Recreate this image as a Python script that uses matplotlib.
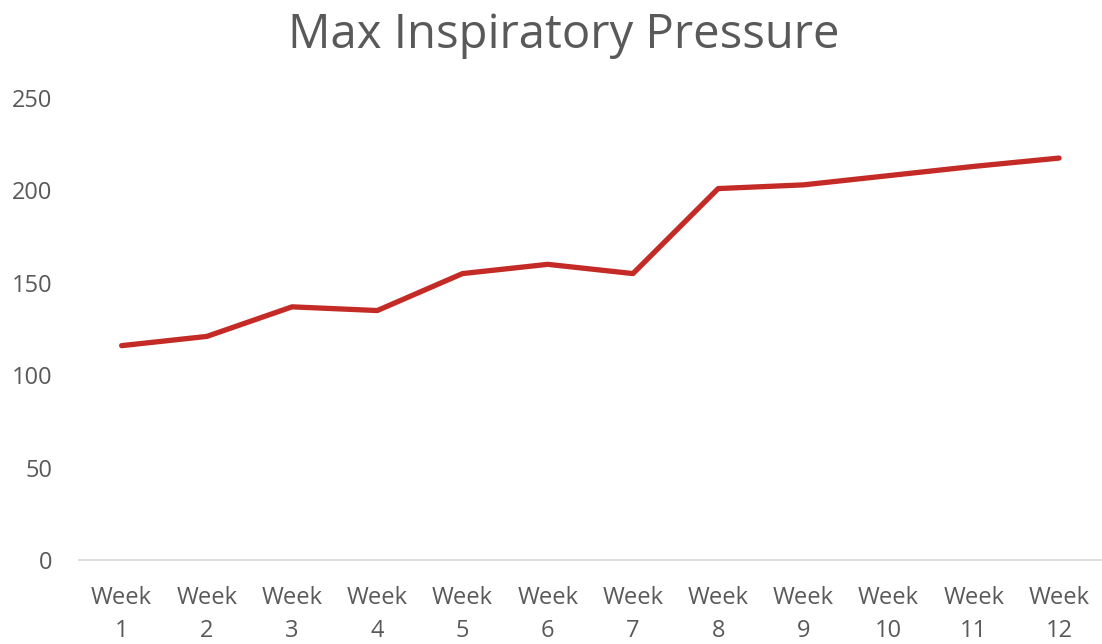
import numpy as np
from matplotlib import pyplot as plt

# weekly max inspiratory pressure readings
weeks = ["Week\n%d" % i for i in range(1, 13)]
pressure = [116, 121, 137, 135, 155, 160, 155, 201, 203, 208, 213, 217.5]
yticks = [0, 50, 100, 150, 200, 250]

fig = plt.figure(figsize=(11.02, 6.44), dpi=100)
ax = fig.add_axes([0.0717, 0.1304, 0.928, 0.7174])

x = np.arange(len(weeks))
ax.plot(x, pressure, color='#C42B26', lw=3.8, solid_capstyle='round', solid_joinstyle='round')

ax.set_xlim(-0.5, len(weeks) - 0.5)
ax.set_ylim(0, 250)
ax.set_yticks(yticks)
ax.set_xticks(x)
ax.set_xticklabels(weeks, fontsize=17, color='#595959', family='Open Sans', linespacing=1.45)
ax.set_yticklabels([str(v) for v in yticks], fontsize=17, color='#595959', family='Open Sans')
ax.tick_params(length=0)
ax.tick_params(axis='y', pad=19)
ax.tick_params(axis='x', pad=19)

for s in ['top', 'right', 'left']:
    ax.spines[s].set_visible(False)
ax.spines['bottom'].set_color('#D9D9D9')
ax.spines['bottom'].set_linewidth(1.2)

fig.text(0.512, 0.945, "Max Inspiratory Pressure", ha='center', va='center',
         fontsize=34, color='#595959', family='Open Sans')

fig.savefig('out.png', dpi=100)
